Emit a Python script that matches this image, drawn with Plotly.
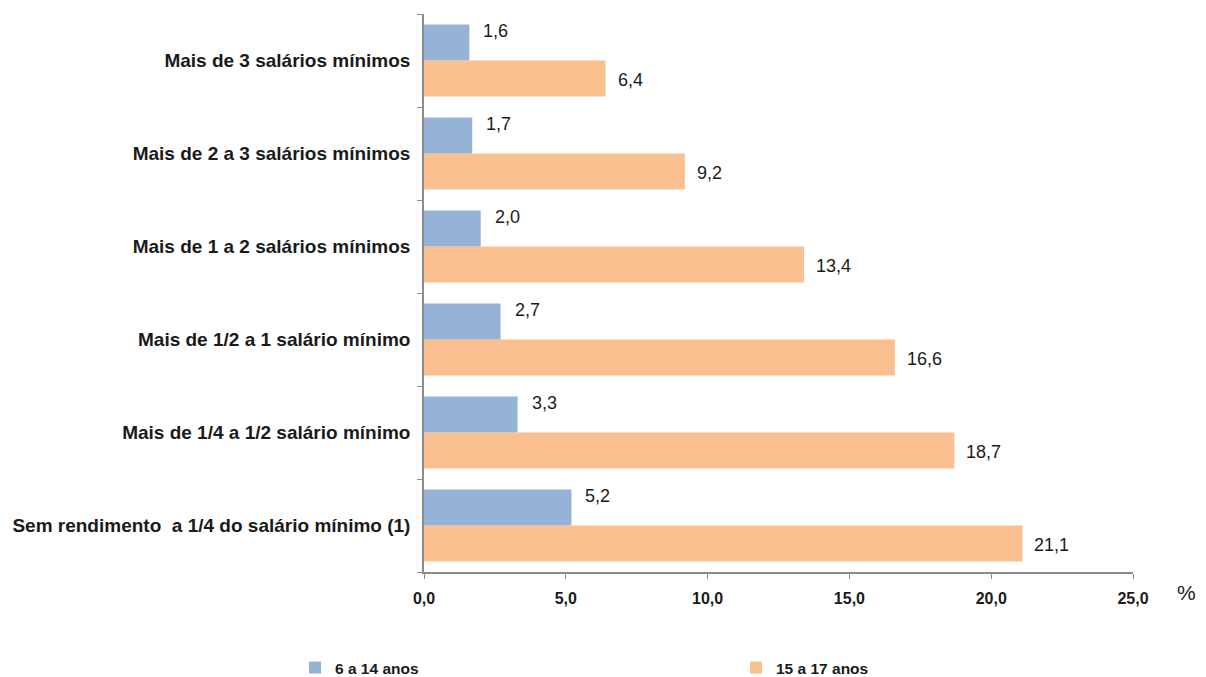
import plotly.graph_objects as go

categories = [
    "Sem rendimento\u00a0 a 1/4 do salário mínimo (1)",
    "Mais de 1/4 a 1/2 salário mínimo",
    "Mais de 1/2 a 1 salário mínimo",
    "Mais de 1 a 2 salários mínimos",
    "Mais de 2 a 3 salários mínimos",
    "Mais de 3 salários mínimos",
]
serie_6_14 = [5.2, 3.3, 2.7, 2.0, 1.7, 1.6]
serie_15_17 = [21.1, 18.7, 16.6, 13.4, 9.2, 6.4]
series_names = ["6 a 14 anos", "15 a 17 anos"]
x_ticks = [0, 5, 10, 15, 20, 25]

BLUE = "#95B3D7"
ORANGE = "#FAC090"
FONT = "Liberation Sans, Arial, sans-serif"
TXT = "#1a1a1a"

def fmt(v):
    return f"{v:.1f}".replace(".", ",")

fig = go.Figure()
fig.add_trace(go.Bar(y=categories, x=serie_15_17, orientation="h", name=series_names[1],
                     marker=dict(color=ORANGE, line=dict(width=0)), legend="legend2"))
fig.add_trace(go.Bar(y=categories, x=serie_6_14, orientation="h", name=series_names[0],
                     marker=dict(color=BLUE, line=dict(width=0)), legend="legend"))

ann = []
for c, v in zip(categories, serie_6_14):
    ann.append(dict(x=v, y=c, xref="x", yref="y", text=fmt(v), showarrow=False,
                    xanchor="left", yanchor="middle", xshift=12, yshift=30,
                    font=dict(size=18, color=TXT, family=FONT)))
for c, v in zip(categories, serie_15_17):
    ann.append(dict(x=v, y=c, xref="x", yref="y", text=fmt(v), showarrow=False,
                    xanchor="left", yanchor="middle", xshift=10, yshift=-19,
                    font=dict(size=18, color=TXT, family=FONT)))
ann.append(dict(x=1, y=0, xref="paper", yref="paper", text="%", showarrow=False,
                xanchor="left", yanchor="middle", xshift=42, yshift=-20,
                font=dict(size=21, color=TXT, family=FONT)))

legend_common = dict(orientation="h", xref="container", yref="container",
                     xanchor="left", y=(677 - 668) / 677, yanchor="middle",
                     font=dict(size=15.5, color=TXT, family=FONT, weight="bold"),
                     itemwidth=30, bgcolor="rgba(0,0,0,0)")

fig.update_layout(
    width=1206, height=677,
    margin=dict(l=424, r=73, t=14, b=105),
    plot_bgcolor="white", paper_bgcolor="white",
    barmode="group", bargap=0.225, bargroupgap=0,
    separators=",.",
    annotations=ann,
    showlegend=True,
    legend=dict(x=295 / 1206, **legend_common),
    legend2=dict(x=736 / 1206, **legend_common),
    font=dict(family=FONT, color=TXT),
)
fig.update_xaxes(range=[0, 25], tickvals=x_ticks, tickformat=".1f",
                 showgrid=False, zeroline=False,
                 showline=True, linecolor="#8c8c8c", linewidth=1.5,
                 ticks="outside", ticklen=5, tickcolor="#8c8c8c",
                 tickfont=dict(size=16, family=FONT, color=TXT, weight="bold"),
                 ticklabelstandoff=6)
fig.update_yaxes(showgrid=False, zeroline=False,
                 showline=True, linecolor="#8c8c8c", linewidth=1.5,
                 ticks="outside", ticklen=5, tickcolor="#8c8c8c", tickson="boundaries",
                 tickfont=dict(size=19, family=FONT, color=TXT, weight="bold"),
                 ticklabelstandoff=8)

fig.write_html("out.html")
